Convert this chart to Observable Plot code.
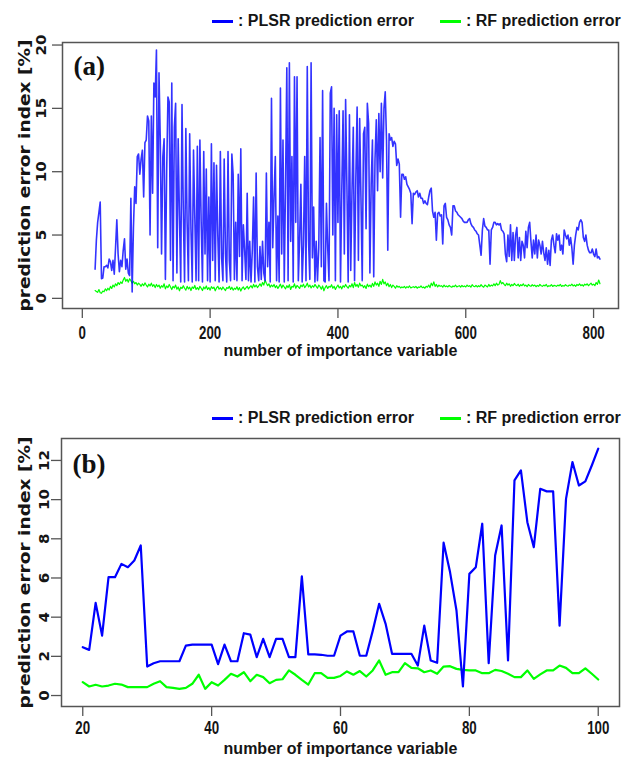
<!DOCTYPE html>
<html>
<head>
<meta charset="utf-8">
<script src="https://cdn.jsdelivr.net/npm/d3@7"></script>
<script src="https://cdn.jsdelivr.net/npm/@observablehq/plot@0.6"></script>
<style>
  body { margin: 0; background: #fff; }
  #root { position: relative; width: 622px; height: 763px; overflow: hidden; background: #fff; }
  .legend-item { position: absolute; height: 24px; display: flex; align-items: center; white-space: nowrap;
    font-family: "Liberation Sans", Arial, sans-serif; font-size: 16px; font-weight: bold; color: #151515; }
  .sw { display: inline-block; width: 21px; height: 3px; margin-right: 5px; }
  .panel { position: absolute; left: 0; }
</style>
</head>
<body>
<div id="root"></div>
<script>
// ---------- data ----------
// panel (a): number of importance variables 20..810, step 2
const aStart = 20, aStep = 2;
const plsrA = [
  2.3,4.6,6.0,6.8,7.6,1.55,1.6,2.5,2.5,2.6,
  2.4,3.1,2.9,2.2,3.0,1.9,4.0,6.2,3.5,2.1,
  3.0,2.5,3.8,4.7,2.3,3.1,2.0,1.8,7.9,0.5,
  5.6,8.8,7.5,11.2,11.4,9.8,11.0,11.7,8.0,12.3,
  12.5,14.4,14.0,5.0,14.4,8.3,17.0,15.9,19.6,4.0,
  17.8,12.5,3.5,11.2,12.6,1.5,10.0,15.9,15.5,3.0,
  17.0,1.4,13.5,15.4,2.0,12.6,6.5,1.3,15.3,7.0,
  1.3,13.4,6.0,1.4,13.0,5.5,1.3,11.7,6.5,1.4,
  12.0,1.4,12.5,6.0,1.3,11.6,3.5,10.2,1.4,8.0,
  1.3,12.2,3.0,10.7,1.4,10.5,5.0,1.3,11.6,3.2,
  1.4,11.0,3.5,1.3,11.6,3.0,1.4,11.4,9.8,1.5,
  6.0,1.4,9.8,3.3,11.8,1.4,5.8,3.8,1.5,8.3,
  1.4,4.5,1.3,3.8,8.0,1.3,9.9,2.5,1.4,4.1,
  1.5,4.5,2.0,1.4,9.9,2.5,6.0,1.3,15.8,4.0,
  8.0,11.2,1.4,6.5,1.3,16.6,3.5,12.5,1.3,9.0,
  18.2,1.4,18.6,4.5,11.2,1.3,17.5,6.0,17.5,1.4,
  4.6,9.0,1.3,4.2,11.2,1.4,18.3,4.5,1.5,18.6,
  3.2,7.2,1.3,4.5,1.4,4.0,12.7,2.5,16.4,1.4,
  1.3,7.5,4.0,1.4,16.2,16.7,5.0,15.0,1.4,14.5,
  6.0,14.8,1.3,8.5,14.8,3.5,15.7,9.0,1.3,14.5,
  2.2,8.5,13.5,1.4,9.5,15.1,3.0,14.2,8.0,1.4,
  13.0,13.5,5.5,15.4,13.8,2.0,9.0,12.5,1.7,11.0,
  14.1,8.5,14.6,10.0,15.4,9.5,15.0,16.3,12.5,3.8,
  13.0,12.5,12.7,12.0,12.4,12.2,10.5,11.0,10.6,6.4,
  9.8,9.8,9.4,9.6,9.0,8.8,8.6,8.3,5.9,8.3,
  8.2,8.4,8.5,8.0,8.3,7.9,7.9,7.5,7.7,7.5,
  7.4,8.0,8.5,8.7,6.9,6.4,6.8,4.6,6.7,6.8,
  6.5,6.6,4.3,7.3,7.5,6.4,6.2,5.8,5.6,5.0,
  7.3,7.3,6.9,6.8,6.6,6.5,6.4,6.3,6.1,6.0,
  6.0,6.0,6.2,6.3,5.9,5.7,5.6,5.4,5.3,5.1,
  5.0,4.2,3.4,5.4,6.3,5.7,5.6,5.4,5.4,2.7,
  5.4,5.6,6.0,6.0,5.8,5.9,5.8,5.9,5.4,5.3,
  5.1,3.5,2.9,5.0,3.3,5.8,3.0,5.2,3.0,5.0,
  5.6,3.2,4.8,3.0,4.5,4.2,3.2,5.3,4.0,5.6,
  6.0,4.5,3.2,4.6,3.5,5.0,3.2,4.6,4.2,3.5,
  4.5,3.6,3.0,4.0,2.7,3.8,2.6,4.6,5.0,4.2,
  3.6,5.1,4.6,5.0,3.8,4.2,3.5,5.4,5.0,4.7,
  5.0,4.2,4.8,4.0,2.7,4.2,5.0,5.6,5.4,6.0,
  6.2,6.0,4.8,4.5,5.0,4.2,3.8,3.6,3.6,3.9,
  3.5,3.3,3.9,3.2,3.3,3.1
];
const rfA = [
  0.62,0.55,0.48,0.70,0.45,0.40,0.58,0.52,0.75,0.60,
  0.80,0.66,0.95,0.78,1.05,0.90,1.15,1.00,1.25,1.10,
  1.30,1.18,1.45,1.65,1.35,1.50,1.28,1.55,1.40,1.20,
  1.35,1.15,1.25,1.05,1.20,1.10,0.95,1.15,1.00,1.22,
  1.05,0.90,1.12,0.98,1.20,0.95,1.08,0.85,1.10,0.92,
  1.05,0.80,1.00,0.88,1.15,0.75,0.98,0.85,1.10,0.90,
  0.70,0.95,0.82,1.05,0.72,0.90,0.60,0.88,0.78,1.00,
  0.80,0.65,0.95,0.75,0.88,0.62,0.90,0.78,1.02,0.70,
  0.85,0.68,0.95,0.80,0.62,0.90,0.75,0.98,0.70,0.85,
  0.65,0.92,0.78,0.88,0.60,0.82,0.95,0.72,0.85,0.68,
  0.90,0.75,0.62,0.85,0.78,0.95,0.70,0.88,0.65,0.80,
  0.72,0.92,0.66,0.85,0.58,0.80,0.90,0.70,0.82,0.95,
  0.75,0.88,1.00,0.82,1.10,0.90,1.05,0.85,0.98,1.15,
  0.95,1.25,1.05,1.45,1.20,1.00,1.15,0.88,1.05,0.92,
  1.10,0.85,1.00,0.78,0.95,1.12,0.82,1.05,0.90,0.75,
  1.00,0.85,1.08,0.70,0.95,0.88,1.15,0.80,1.02,0.90,
  0.78,1.05,0.92,1.12,0.85,0.98,1.20,0.90,1.05,0.82,
  1.00,0.88,1.10,0.95,0.80,1.05,0.92,0.72,0.98,0.60,
  0.85,1.00,0.78,0.95,0.88,1.08,0.80,0.95,0.70,0.90,
  1.05,0.82,0.95,0.75,1.00,0.88,1.10,0.92,0.80,1.02,
  0.90,1.15,0.85,1.25,0.95,1.10,0.88,1.20,0.98,1.05,
  0.85,1.00,0.78,1.12,0.92,1.05,0.88,1.18,0.95,1.30,
  1.05,1.20,0.95,1.35,1.10,1.50,1.15,1.30,1.00,1.20,
  0.92,1.10,0.85,1.05,0.95,0.80,1.00,0.88,0.95,0.82,
  0.90,0.85,0.95,0.80,0.92,0.85,0.98,0.82,0.88,0.92,
  0.85,0.95,0.80,0.90,0.86,0.98,0.84,0.90,0.80,0.95,
  0.88,1.05,0.85,1.20,1.00,1.30,0.95,1.10,0.90,1.05,
  0.95,1.00,0.88,1.05,0.92,0.98,0.90,1.02,0.94,0.88,
  0.98,0.92,1.05,0.90,0.96,1.00,0.88,1.02,0.92,0.98,
  0.90,1.05,0.94,1.00,0.88,1.08,0.96,0.92,1.02,0.90,
  1.00,0.92,1.08,0.95,0.88,1.05,0.98,0.90,1.10,0.95,
  1.05,0.98,1.15,1.00,1.20,1.05,1.10,1.40,1.15,1.25,
  1.10,1.00,1.20,1.05,1.15,0.95,1.10,1.00,1.18,1.05,
  1.00,1.12,0.95,1.08,1.00,1.15,0.98,1.05,0.92,1.10,
  1.00,0.95,1.08,0.98,1.05,0.92,1.02,0.95,1.10,1.00,
  0.95,1.05,0.98,1.10,0.92,1.00,0.96,1.08,0.94,1.02,
  1.00,0.95,1.05,0.98,1.10,0.94,1.02,0.96,1.08,1.00,
  0.96,1.05,1.00,1.12,0.98,1.06,0.95,1.10,1.02,1.15,
  1.00,1.08,0.96,1.12,1.05,1.15,1.00,1.10,1.20,1.05,
  1.12,1.00,1.25,1.10,1.45,1.15
];
// panel (b): number of importance variables 20..100
const varsB = d3.range(20, 101);
const plsrB = [
  2.47,2.33,4.73,3.06,6.04,6.04,6.72,6.55,6.89,7.66,
  1.48,1.65,1.75,1.75,1.75,1.75,2.55,2.6,2.6,2.6,
  2.6,1.6,2.6,1.75,1.75,3.18,3.11,1.96,2.89,1.96,
  2.89,2.89,1.96,1.96,6.08,2.1,2.1,2.08,2.03,2.03,
  3.06,3.27,3.27,2.03,2.03,3.3,4.68,3.66,2.13,2.13,
  2.13,2.13,1.53,3.57,1.79,1.67,7.8,6.3,4.34,0.46,
  6.21,6.55,8.77,1.65,7.15,8.68,1.79,10.98,11.49,8.85,
  7.57,10.55,10.42,10.42,3.57,10.04,11.92,10.72,10.93,11.74,
  12.6
];
const rfB = [
  0.68,0.46,0.55,0.46,0.51,0.6,0.56,0.43,0.43,0.43,
  0.43,0.6,0.73,0.43,0.39,0.34,0.39,0.6,1.06,0.34,
  0.68,0.51,0.8,1.11,0.97,1.19,0.73,1.06,0.94,0.63,
  0.8,0.83,1.28,1.06,0.8,0.56,1.14,1.14,0.9,0.9,
  1.0,1.23,1.06,1.25,0.97,1.28,1.79,1.06,1.19,1.19,
  1.65,1.41,1.39,1.19,1.28,1.11,1.48,1.5,1.36,1.31,
  1.28,1.28,1.14,1.14,1.31,1.25,1.11,0.94,0.94,1.28,
  0.85,1.08,1.28,1.28,1.53,1.41,1.14,1.14,1.39,1.11,
  0.82
];
const xTicksA = [0, 200, 400, 600, 800];
const yTicksA = [0, 5, 10, 15, 20];
const xTicksB = [20, 40, 60, 80, 100];
const yTicksB = [0, 2, 4, 6, 8, 10, 12];
const legendLabels = [": PLSR prediction error", ": RF prediction error"];
const xTitle = "number of importance variable";
const yTitle = "prediction error index [%]";

// ---------- tables ----------
const tableA = plsrA.map((v, i) => ({n: aStart + aStep * i, plsr: v, rf: rfA[i]}));
const tableB = varsB.map((n, i) => ({n, plsr: plsrB[i], rf: rfB[i]}));

const SANS = "'Liberation Sans', Arial, sans-serif";

function panel(o) {
  return Plot.plot({
    width: 622, height: o.height,
    marginTop: o.mt, marginBottom: o.mb, marginLeft: o.ml, marginRight: o.mr,
    x: {domain: o.xDomain},
    y: {domain: o.yDomain},
    style: {background: "transparent", overflow: "visible"},
    marks: [
      Plot.line(o.data, {x: "n", y: "rf", stroke: "#00ff00", strokeWidth: o.swRF}),
      Plot.line(o.data, {x: "n", y: "plsr", stroke: "#0000ff", strokeWidth: o.swP, strokeOpacity: o.opP}),
      Plot.frame({stroke: "#555", strokeWidth: 1.5}),
      Plot.axisX(o.xTicks, {anchor: "bottom", tickSize: 10, tickPadding: o.tp, stroke: "#555", strokeWidth: 1.3,
        fontSize: 18, fontWeight: "bold", fontFamily: SANS, fill: "#151515", label: null}),
      Plot.axisY(o.yTicks, {anchor: "left", tickSize: 10, stroke: "#555", strokeWidth: 1.3, tickFormat: () => "", label: null}),
      Plot.text(o.yTicks, {y: d => d, text: d => String(d), frameAnchor: "left", dx: o.ytDx, rotate: -90,
        textAnchor: "middle", fontSize: 14, fontWeight: "bold", fontFamily: "DejaVu Sans", fill: "#151515"}),
      Plot.text([yTitle], {text: d => d, frameAnchor: "left", dx: o.yTitleDx, rotate: -90, textAnchor: "middle",
        fontSize: 15, fontWeight: "bold", fontFamily: "DejaVu Sans", fill: "#151515"}),
      Plot.text([xTitle], {text: d => d, frameAnchor: "bottom", dy: o.xTitleDy,
        fontSize: 16, fontWeight: "bold", fontFamily: SANS, fill: "#151515"}),
      Plot.text([o.tag], {text: d => d, frameAnchor: "top-left", dx: 11, dy: o.tagDy, textAnchor: "start", lineAnchor: "middle",
        fontSize: 27, fontWeight: "bold", fontFamily: "'Liberation Serif', 'Times New Roman', serif", fill: "#111"})
    ]
  });
}

// stretch / squeeze texts to the lengths seen in the reference
function fitTexts(svg) {
  svg.querySelectorAll("text").forEach(t => {
    const s = t.textContent;
    const tr = t.getAttribute("transform") || "";
    const rotated = tr.includes("rotate");
    if (s === yTitle) {
      t.setAttribute("textLength", 272);
      t.setAttribute("lengthAdjust", "spacingAndGlyphs");
    } else if (rotated && /^\d+$/.test(s)) {
      t.setAttribute("textLength", 10.5 * s.length);
      t.setAttribute("lengthAdjust", "spacingAndGlyphs");
    } else if (!rotated && /^\d+$/.test(s)) {
      t.setAttribute("textLength", 7.4 * s.length);
      t.setAttribute("lengthAdjust", "spacingAndGlyphs");
    }
  });
}

const root = document.getElementById("root");

function addLegend(cy) {
  const items = [
    {x: 212, color: "#0000ff", label: legendLabels[0]},
    {x: 440, color: "#00ff00", label: legendLabels[1]}
  ];
  for (const it of items) {
    const d = document.createElement("div");
    d.className = "legend-item";
    d.style.left = it.x + "px";
    d.style.top = (cy - 12) + "px";
    const sw = document.createElement("span");
    sw.className = "sw";
    sw.style.background = it.color;
    const t = document.createElement("span");
    t.textContent = it.label;
    d.appendChild(sw); d.appendChild(t);
    root.appendChild(d);
  }
}

const pa = panel({
  data: tableA, height: 340, mt: 12, mb: 62, ml: 62, mr: 4,
  xDomain: [-31, 839], yDomain: [-0.8, 20.2], xTicks: xTicksA, yTicks: yTicksA,
  swP: 1.6, opP: 0.8, swRF: 1.2, tp: 8, ytDx: -21, yTitleDx: -37, xTitleDy: 47, tag: "(a)", tagDy: 24
});
pa.classList.add("panel"); pa.style.top = "30px";
fitTexts(pa);
root.appendChild(pa);

const pb = panel({
  data: tableB, height: 338, mt: 13, mb: 57, ml: 61, mr: 3,
  xDomain: [16.7, 103.3], yDomain: [-0.56, 13.12], xTicks: xTicksB, yTicks: yTicksB,
  swP: 2.2, opP: 1, swRF: 2.2, tp: 5, ytDx: -17, yTitleDx: -36, xTitleDy: 47, tag: "(b)", tagDy: 26
});
pb.classList.add("panel"); pb.style.top = "425px";
fitTexts(pb);
root.appendChild(pb);

addLegend(21);
addLegend(418);
</script>
</body>
</html>
